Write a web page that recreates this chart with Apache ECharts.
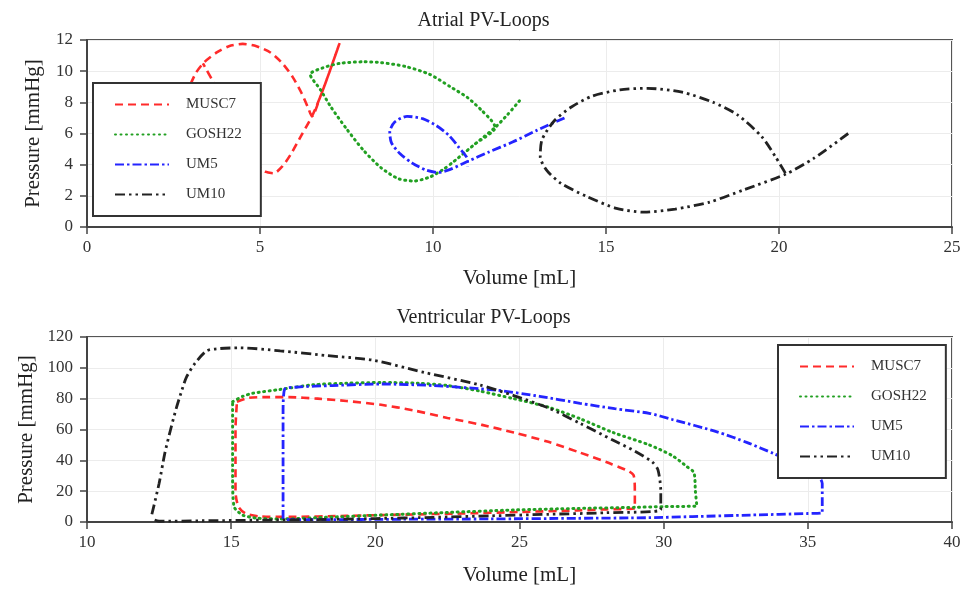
<!DOCTYPE html>
<html><head><meta charset="utf-8">
<script src="https://cdn.jsdelivr.net/npm/echarts@6/dist/echarts.min.js"></script>
<style>html,body{margin:0;padding:0;background:#fff}#c{width:967px;height:589px}</style>
</head><body><div id="c"></div>
<script>
// ---- data ----
const seriesNames = ['MUSC7', 'GOSH22', 'UM5', 'UM10'];
const atrialXTicks = [0, 25, 5];
const atrialYTicks = [0, 12, 2];
const ventXTicks = [10, 40, 5];
const ventYTicks = [0, 120, 20];

const atrialMUSC7 = [[3.0,9.2],[3.15,9.9],[3.4,10.6],[3.75,11.2],[4.1,11.6],[4.5,11.75],[4.9,11.6],[5.3,11.2],[5.65,10.5],[5.95,9.6],[6.2,8.6],[6.4,7.6],[6.5,7.1],[6.75,8.4],[7.0,9.9],[7.3,11.8],[7.0,9.9],[6.75,8.4],[6.5,7.1],[6.2,5.9],[5.9,4.7],[5.65,3.9],[5.4,3.45],[5.15,3.55],[4.9,4.0],[4.55,5.0],[4.2,6.4],[3.9,8.0],[3.65,9.3],[3.45,10.1],[3.35,10.5]];
const atrialGOSH22 = [[12.5,8.1],[12.15,7.2],[11.8,6.4],[11.2,5.3],[10.6,4.2],[10.3,3.7],[9.9,3.2],[9.45,2.95],[9.0,3.1],[8.5,3.8],[8.0,4.9],[7.5,6.3],[7.05,7.7],[6.75,8.8],[6.45,9.8],[6.8,10.2],[7.3,10.5],[8.0,10.6],[8.5,10.55],[9.2,10.3],[9.9,9.8],[10.5,9.0],[11.0,8.3],[11.4,7.5],[11.7,6.8],[11.8,6.4],[11.2,5.3],[10.6,4.2]];
const atrialUM5 = [[13.8,7.0],[13.0,6.2],[12.3,5.45],[11.6,4.8],[11.0,4.2],[10.5,3.7],[10.15,3.5],[9.8,3.65],[9.4,4.1],[9.05,4.7],[8.8,5.4],[8.75,6.1],[8.9,6.75],[9.25,7.1],[9.7,6.95],[10.1,6.5],[10.45,5.9],[10.75,5.1],[11.0,4.3],[11.0,3.9]];
const atrialUM10 = [[22.0,6.0],[21.0,4.4],[20.2,3.4],[19.0,2.4],[18.0,1.6],[17.0,1.15],[16.1,0.95],[15.3,1.2],[14.45,1.95],[13.7,2.8],[13.3,3.6],[13.1,4.5],[13.15,5.6],[13.5,6.8],[14.0,7.7],[14.6,8.4],[15.4,8.8],[16.2,8.9],[17.2,8.65],[18.1,8.0],[18.8,7.2],[19.5,5.8],[19.9,4.5],[20.2,3.4]];

const ventMUSC7 = [[15.2,78],[15.6,80.5],[16.3,81],[17.0,81],[18.0,80],[19.0,78.5],[20.2,76],[21.3,72.5],[22.5,67.5],[23.7,63],[24.8,58],[26.0,52],[27.1,45],[28.2,37.5],[28.95,30.5],[29.0,20],[29.0,9],[28.0,8.2],[27.0,7.5],[25.0,6.5],[23.0,5.5],[21.0,4.8],[19.0,4],[17.0,3.3],[16.0,3.6],[15.5,5.5],[15.25,10],[15.15,20],[15.15,40],[15.15,60],[15.2,78]];
const ventGOSH22 = [[15.05,78],[15.4,81.5],[15.75,83.5],[16.7,86],[17.85,89],[19.0,90],[20.2,90.5],[21.5,90],[22.5,88.5],[23.6,85],[24.8,80],[26.0,74.5],[27.1,67],[28.25,58],[29.5,50],[30.3,43],[30.8,36],[31.05,32],[31.1,20],[31.15,10.5],[30.0,10],[29.0,9.5],[27.0,8.8],[24.8,7.8],[22.5,6.2],[20.2,4.5],[18.5,3.2],[16.7,2],[15.9,2.5],[15.4,4.5],[15.1,10],[15.05,30],[15.05,55],[15.05,78]];
const ventUM5 = [[16.8,2],[16.8,20],[16.8,45],[16.8,70],[16.85,86],[17.3,87.5],[18.5,88.5],[20.2,89.5],[22.0,88.5],[24.2,85.5],[25.7,81.5],[27.1,77],[28.3,73.5],[29.5,70.5],[30.3,66.5],[31.85,58.5],[32.9,51.5],[33.8,44.5],[34.6,38],[35.3,31],[35.5,25],[35.5,15],[35.5,6],[35.0,5.5],[33.0,4.5],[31.0,3.5],[29.5,2.8],[27.0,2.4],[24.0,2],[21.0,1.8],[18.0,1.5],[17.0,1.5],[16.8,2]];
const ventUM10 = [[12.25,5],[12.5,25],[12.7,44.7],[12.9,60],[13.1,74],[13.3,86],[13.45,94],[13.75,103],[14.15,111],[14.6,112.5],[15.3,113],[16.7,111],[18.3,108],[19.9,105],[21.7,97],[23.6,89],[24.8,82],[26.0,74],[27.1,64],[28.25,53],[29.0,46],[29.6,39],[29.8,34],[29.9,20],[29.9,8],[28.0,6],[26.0,5],[24.0,4],[22.0,3],[20.0,2.2],[18.0,1.6],[16.0,1.2],[14.0,0.8],[12.5,0.5],[12.25,2]];

// ---- styles ----
const FONT = '"Liberation Serif", "DejaVu Serif", serif';
const styles = {
  MUSC7: {color: '#ff2b2b', width: 2.6, type: [8, 5]},
  GOSH22: {color: '#22a022', width: 3, type: [1, 4.5], cap: 'round'},
  UM5: {color: '#2424ff', width: 2.8, type: [9, 3, 2.5, 3]},
  UM10: {color: '#222222', width: 2.8, type: [10, 4, 2.5, 4, 2.5, 4]}
};

function mk(name, data, idx) {
  const s = styles[name];
  return {
    name: name, type: 'line', data: data, xAxisIndex: idx, yAxisIndex: idx,
    showSymbol: false, symbol: 'none', smooth: 0.25, animation: false, z: 3,
    itemStyle: {color: s.color},
    lineStyle: {color: s.color, width: s.width, type: s.type, cap: s.cap || 'butt'}
  };
}

function xAxisCfg(idx, t, gap) {
  return {
    gridIndex: idx, type: 'value', min: t[0], max: t[1], interval: t[2],
    name: 'Volume [mL]', nameLocation: 'middle', nameGap: gap,
    nameTextStyle: {fontFamily: FONT, fontSize: 21, color: '#222'},
    axisLine: {show: true, onZero: false, lineStyle: {color: '#444', width: 2}},
    axisTick: {show: true, length: 7, lineStyle: {color: '#444', width: 1.5}},
    axisLabel: {fontFamily: FONT, fontSize: 17, color: '#333', margin: 12},
    splitLine: {show: true, lineStyle: {color: '#ececec', width: 1}}
  };
}
function yAxisCfg(idx, t) {
  return {
    gridIndex: idx, type: 'value', min: t[0], max: t[1], interval: t[2],
    name: 'Pressure [mmHg]', nameLocation: 'middle', nameGap: 43,
    nameTextStyle: {fontFamily: FONT, fontSize: 21, color: '#222'},
    axisLine: {show: true, onZero: false, lineStyle: {color: '#444', width: 2}},
    axisTick: {show: true, length: 7, lineStyle: {color: '#444', width: 1.5}},
    axisLabel: {fontFamily: FONT, fontSize: 17, color: '#333', margin: 14},
    splitLine: {show: true, lineStyle: {color: '#ececec', width: 1}}
  };
}
function legendCfg(left, top) {
  return {
    orient: 'vertical', left: left, top: top, data: seriesNames,
    backgroundColor: '#fff', borderColor: '#333', borderWidth: 2,
    padding: [14, 19, 14, 21], itemGap: 15, itemWidth: 54, itemHeight: 14,
    itemStyle: {opacity: 0},
    textStyle: {fontFamily: FONT, fontSize: 15, color: '#333', padding: [0, 0, 0, 12]},
    z: 10, selectedMode: false
  };
}

const chart = echarts.init(document.getElementById('c'), null, {renderer: 'canvas'});
chart.setOption({
  animation: false,
  backgroundColor: '#fff',
  title: [
    {text: 'Atrial PV-Loops', left: 'center', top: 6, textStyle: {fontFamily: FONT, fontSize: 20, fontWeight: 'normal', color: '#222'}},
    {text: 'Ventricular PV-Loops', left: 'center', top: 303, textStyle: {fontFamily: FONT, fontSize: 20, fontWeight: 'normal', color: '#222'}}
  ],
  grid: [
    {left: 87, right: 15, top: 40, height: 187, show: true, borderColor: '#555', borderWidth: 2, backgroundColor: 'transparent'},
    {left: 87, right: 15, top: 337, height: 185, show: true, borderColor: '#555', borderWidth: 2, backgroundColor: 'transparent'}
  ],
  xAxis: [xAxisCfg(0, atrialXTicks, 41), xAxisCfg(1, ventXTicks, 43)],
  yAxis: [yAxisCfg(0, atrialYTicks), yAxisCfg(1, ventYTicks)],
  legend: [legendCfg(93, 83), legendCfg(778, 345)],
  series: [
    mk('MUSC7', atrialMUSC7, 0), mk('GOSH22', atrialGOSH22, 0), mk('UM5', atrialUM5, 0), mk('UM10', atrialUM10, 0),
    mk('MUSC7', ventMUSC7, 1), mk('GOSH22', ventGOSH22, 1), mk('UM5', ventUM5, 1), mk('UM10', ventUM10, 1)
  ]
});
</script></body></html>
